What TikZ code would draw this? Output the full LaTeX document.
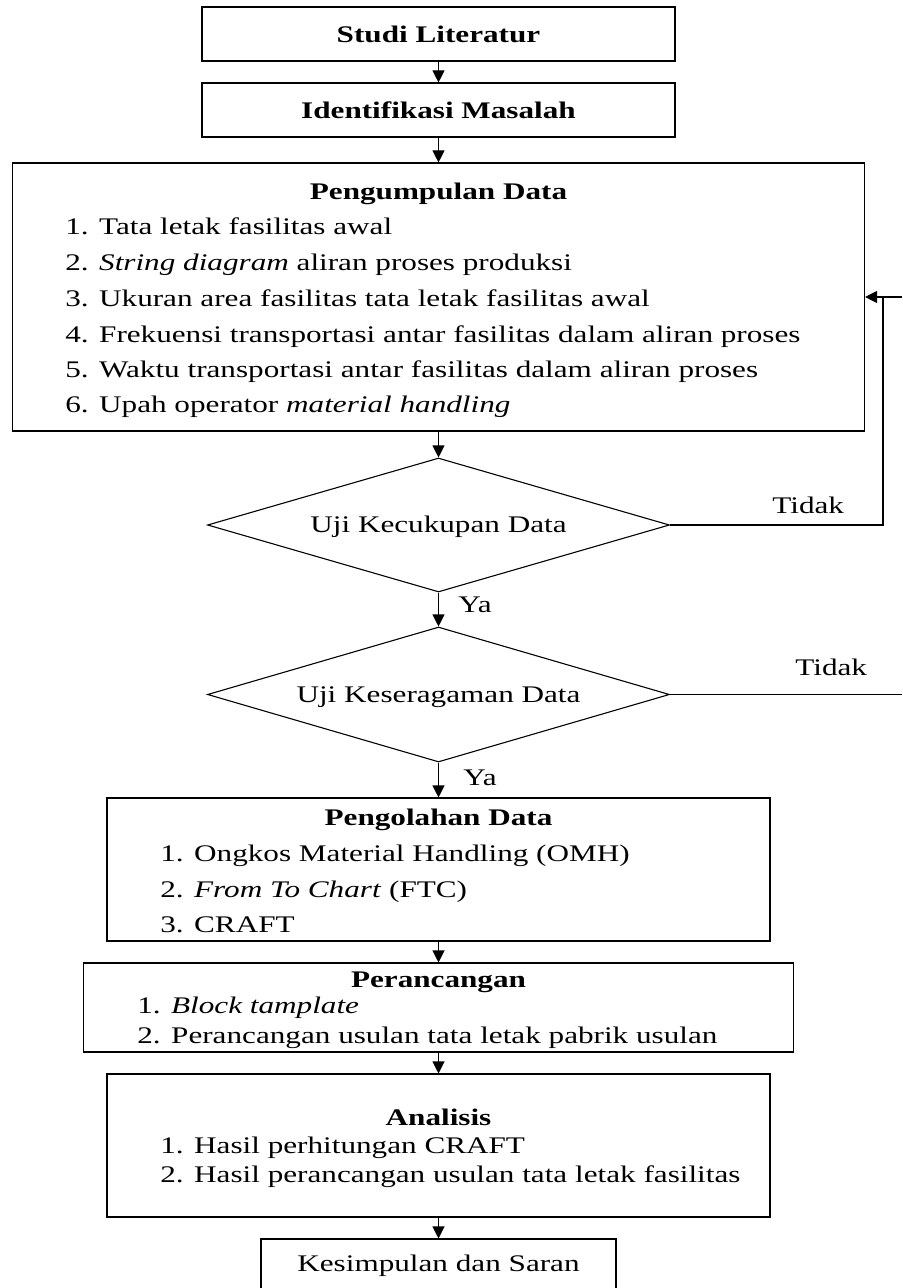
\documentclass[tikz,border=0pt]{standalone}
\usepackage{fontspec}
\setmainfont{Liberation Serif}[FakeStretch=1.31]
\usetikzlibrary{shapes.geometric,arrows.meta}
\begin{document}
\begin{tikzpicture}[x=0.5pt,y=-0.5pt,
  txt/.style={inner sep=0pt, font=\fontsize{11.9pt}{14pt}\selectfont},
  box/.style={draw, rectangle, line width=0.55pt, inner sep=0pt, txt},
  dec/.style={draw, diamond, line width=0.55pt, inner sep=0pt},
  flow/.style={line width=0.55pt, -{Triangle[width=6pt,length=6pt]}},
  link/.style={line width=0.55pt}]
\useasboundingbox (0,0) rectangle (902,1288);
\clip (0,0) rectangle (902,1288);

% single-line steps
\node[box, minimum width=236.5pt, minimum height=27pt] (studi) at (438.5,34) {\textbf{Studi Literatur}};
\node[box, minimum width=236.5pt, minimum height=27pt] (ident) at (438.5,110) {\textbf{Identifikasi Masalah}};

% data collection
\node[box, minimum width=426pt, minimum height=134pt] (kumpul) at (438.5,297) {};
\node[txt, anchor=base] (kt) at (438.5,200) {\textbf{Pengumpulan Data}};
\node[txt, anchor=base west] (k1) at (65,234.5) {1. Tata letak fasilitas awal};
\node[txt, anchor=base west] (k2) at (65,270.5) {2. \textit{String diagram} aliran proses produksi};
\node[txt, anchor=base west] (k3) at (65,306.5) {3. Ukuran area fasilitas tata letak fasilitas awal};
\node[txt, anchor=base west] (k4) at (65,342.5) {4. Frekuensi transportasi antar fasilitas dalam aliran proses};
\node[txt, anchor=base west] (k5) at (65,378) {5. Waktu transportasi antar fasilitas dalam aliran proses};
\node[txt, anchor=base west] (k6) at (65,413) {6. Upah operator \textit{material handling}};

% tests
\node[dec, minimum width=231pt, minimum height=67pt] (uji1) at (438.5,525) {};
\node[txt, anchor=base] (u1t) at (438.5,532) {Uji Kecukupan Data};
\node[dec, minimum width=231pt, minimum height=67.5pt] (uji2) at (438.5,694.5) {};
\node[txt, anchor=base] (u2t) at (438.5,702) {Uji Keseragaman Data};

% data processing
\node[box, minimum width=331.5pt, minimum height=71.5pt] (olah) at (438.5,869.5) {};
\node[txt, anchor=base] (ot) at (438.5,825) {\textbf{Pengolahan Data}};
\node[txt, anchor=base west] (o1) at (160,861) {1. Ongkos Material Handling (OMH)};
\node[txt, anchor=base west] (o2) at (160,897) {2. \textit{From To Chart} (FTC)};
\node[txt, anchor=base west] (o3) at (160,932) {3. CRAFT};

% design
\node[box, minimum width=355pt, minimum height=44.5pt] (rancang) at (438.5,1007.5) {};
\node[txt, anchor=base] (rt) at (438.5,987) {\textbf{Perancangan}};
\node[txt, anchor=base west] (r1) at (137,1013) {1. \textit{Block tamplate}};
\node[txt, anchor=base west] (r2) at (137,1043) {2. Perancangan usulan tata letak pabrik usulan};

% analysis
\node[box, minimum width=331.5pt, minimum height=71.5pt] (analisis) at (438.5,1145.5) {};
\node[txt, anchor=base] (at) at (438.5,1125) {\textbf{Analisis}};
\node[txt, anchor=base west] (a1) at (160,1153) {1. Hasil perhitungan CRAFT};
\node[txt, anchor=base west] (a2) at (160,1182) {2. Hasil perancangan usulan tata letak fasilitas};

% conclusion
\node[box, minimum width=177.5pt, minimum height=26.5pt] (simpul) at (438.5,1265.5) {Kesimpulan dan Saran};

% main flow
\draw[flow] (studi.south) -- (ident.north);
\draw[flow] (ident.south) -- (kumpul.north);
\draw[flow] (kumpul.south) -- (uji1.north);
\draw[flow] (uji1.south) -- (uji2.north);
\draw[flow] (uji2.south) -- (olah.north);
\draw[flow] (olah.south) -- (rancang.north);
\draw[flow] (rancang.south) -- (analisis.north);
\draw[flow] (analisis.south) -- (simpul.north);

\node[txt, anchor=base west] (ya1) at (458,612) {Ya};
\node[txt, anchor=base west] (ya2) at (463,785) {Ya};

% return paths
\coordinate (fbc) at (883,297);
\coordinate (fbr) at (902,297);
\coordinate (nr) at (902,694.5);
\draw[link] (uji1.east) -| (fbc);
\draw[flow] (fbr) -- (kumpul.east);
\draw[link] (uji2.east) -- (nr);
\node[txt, anchor=base west] (td1) at (772,513) {Tidak};
\node[txt, anchor=base west] (td2) at (795,675) {Tidak};
\end{tikzpicture}
\end{document}
